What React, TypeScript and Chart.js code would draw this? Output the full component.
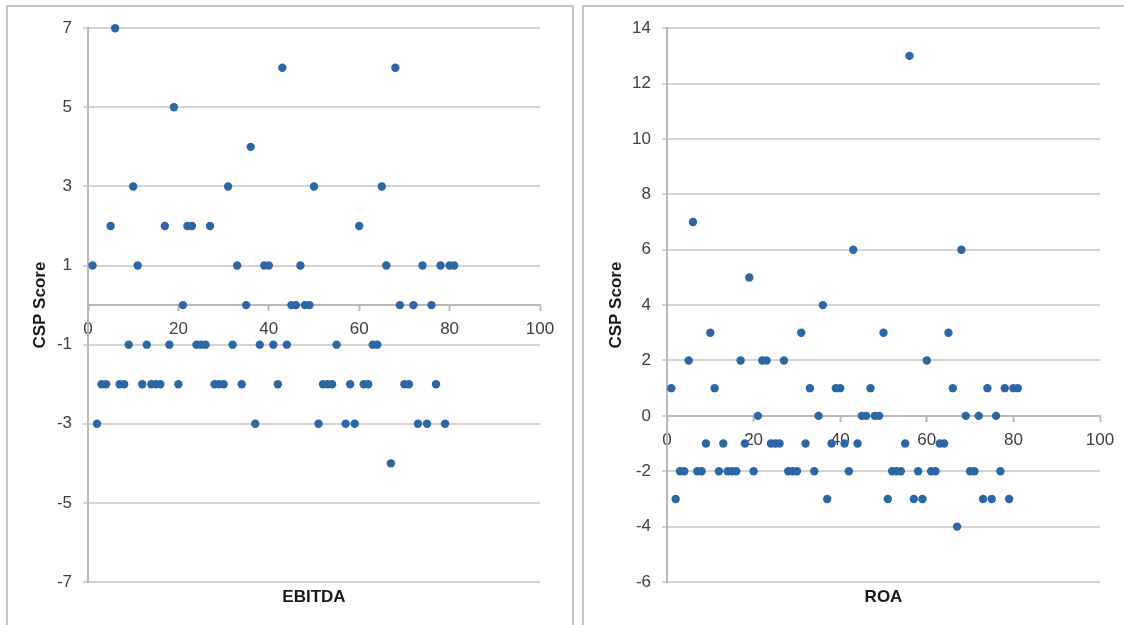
import React, { useEffect, useRef } from 'react';
import { Chart, registerables } from 'chart.js';

Chart.register(...registerables);

// Observation number (x) for every firm
const observation = [
  1, 2, 3, 4, 5, 6, 7, 8, 9, 10,
  11, 12, 13, 14, 15, 16, 17, 18, 19, 20,
  21, 22, 23, 24, 25, 26, 27, 28, 29, 30,
  31, 32, 33, 34, 35, 36, 37, 38, 39, 40,
  41, 42, 43, 44, 45, 46, 47, 48, 49, 50,
  51, 52, 53, 54, 55, 56, 57, 58, 59, 60,
  61, 62, 63, 64, 65, 66, 67, 68, 69, 70,
  71, 72, 73, 74, 75, 76, 77, 78, 79, 80,
  81,
];

// CSP score for every observation
const cspScore = [
  1, -3, -2, -2, 2, 7, -2, -2, -1, 3,
  1, -2, -1, -2, -2, -2, 2, -1, 5, -2,
  0, 2, 2, -1, -1, -1, 2, -2, -2, -2,
  3, -1, 1, -2, 0, 4, -3, -1, 1, 1,
  -1, -2, 6, -1, 0, 0, 1, 0, 0, 3,
  -3, -2, -2, -2, -1, 13, -3, -2, -3, 2,
  -2, -2, -1, -1, 3, 1, -4, 6, 0, -2,
  -2, 0, -3, 1, -3, 0, -2, 1, -3, 1,
  1,
];

const xTicks = [0, 20, 40, 60, 80, 100];
const yTitle = 'CSP Score';
const leftXTitle = 'EBITDA';
const rightXTitle = 'ROA';
const leftYRange = [-7, 7];
const rightYRange = [-6, 14];

const FONT = "'Liberation Sans', Arial, sans-serif";
const GRID = '#d4d4d4';
const AXIS = '#b9b9b9';
const DOT = '#2c66a5';

function makeConfig(xTitle: string, yRange: number[], yAxisWidth: number, padRight: number): any {
  const points = observation.map((x, i) => ({ x, y: cspScore[i] }));
  return {
    type: 'scatter',
    data: {
      datasets: [
        {
          label: yTitle,
          data: points,
          xAxisID: 'x',
          yAxisID: 'y',
          backgroundColor: DOT,
          borderWidth: 0,
          pointRadius: 4.2,
          pointHoverRadius: 4.2,
          clip: false,
        },
      ],
    },
    options: {
      responsive: false,
      animation: false,
      devicePixelRatio: 1,
      layout: { padding: { left: 0, right: padRight, top: 19, bottom: 0 } },
      plugins: { legend: { display: false }, tooltip: { enabled: false }, title: { display: false } },
      scales: {
        x: {
          type: 'linear',
          position: { y: 0 },
          min: xTicks[0],
          max: xTicks[xTicks.length - 1],
          afterBuildTicks: (scale: any) => {
            scale.ticks = xTicks.map((v) => ({ value: v }));
          },
          ticks: {
            color: '#404040',
            font: { family: FONT, size: 17 },
            padding: 9,
            maxRotation: 0,
            autoSkip: false,
          },
          grid: {
            display: true,
            drawOnChartArea: false,
            drawTicks: true,
            tickLength: 5,
            tickColor: AXIS,
            tickWidth: 2,
            color: AXIS,
          },
          border: { display: true, color: AXIS, width: 2 },
        },
        y: {
          type: 'linear',
          position: 'left',
          min: yRange[0],
          max: yRange[1],
          ticks: {
            stepSize: 2,
            color: '#404040',
            font: { family: FONT, size: 17 },
            padding: 11,
            autoSkip: false,
          },
          grid: {
            color: GRID,
            lineWidth: 2,
            drawTicks: true,
            tickLength: 5,
            tickColor: GRID,
          },
          border: { display: true, color: AXIS, width: 2 },
          title: {
            display: true,
            text: yTitle,
            color: '#1a1a1a',
            font: { family: FONT, size: 17, weight: 'bold' },
            padding: { top: 22, bottom: 0 },
          },
          afterFit: (scale: any) => {
            scale.width = yAxisWidth;
          },
        },
        x2: {
          type: 'linear',
          position: 'bottom',
          display: true,
          ticks: { display: false },
          grid: { display: false, drawTicks: false },
          border: { display: false },
          title: {
            display: true,
            text: xTitle,
            color: '#1a1a1a',
            font: { family: FONT, size: 17, weight: 'bold' },
            padding: { top: 0, bottom: 17 },
          },
          afterFit: (scale: any) => {
            scale.height = 43;
          },
        },
      },
    },
  };
}

function ScatterPanel(props: { xTitle: string; yRange: number[]; yAxisWidth: number; padRight: number; width: number; height: number }) {
  const ref = useRef<HTMLCanvasElement | null>(null);
  useEffect(() => {
    if (!ref.current) return;
    const chart = new Chart(ref.current, makeConfig(props.xTitle, props.yRange, props.yAxisWidth, props.padRight));
    return () => chart.destroy();
  }, []);
  return (
    <canvas
      ref={ref}
      width={props.width}
      height={props.height}
      style={{ display: 'block', width: props.width, height: props.height }}
    />
  );
}

export default function App() {
  return (
    <div
      style={{
        position: 'fixed',
        left: 0,
        top: 0,
        width: 1124,
        height: 625,
        overflow: 'hidden',
        background: '#ffffff',
      }}
    >
      <div
        style={{
          position: 'absolute',
          left: 6,
          top: 5,
          width: 568,
          height: 700,
          boxSizing: 'border-box',
          border: '2px solid #c6c6c6',
          background: '#ffffff',
        }}
      >
        <ScatterPanel xTitle={leftXTitle} yRange={leftYRange} yAxisWidth={80} padRight={32} width={564} height={618} />
      </div>
      <div
        style={{
          position: 'absolute',
          left: 582,
          top: 5,
          width: 600,
          height: 700,
          boxSizing: 'border-box',
          border: '2px solid #c6c6c6',
          background: '#ffffff',
        }}
      >
        <ScatterPanel xTitle={rightXTitle} yRange={rightYRange} yAxisWidth={83} padRight={24} width={540} height={618} />
      </div>
    </div>
  );
}
